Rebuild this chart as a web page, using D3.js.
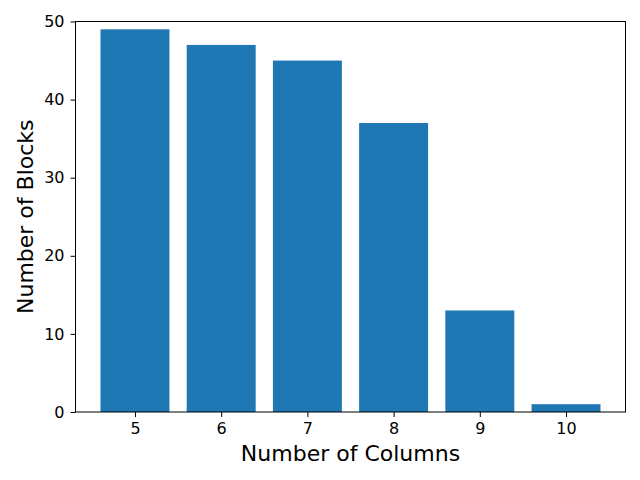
<!DOCTYPE html>
<html>
<head>
<meta charset="utf-8">
<script src="https://cdn.jsdelivr.net/npm/d3@7"></script>
<style>
  body { margin: 0; background: #fff; }
  svg text { font-family: "DejaVu Sans", sans-serif; }
</style>
</head>
<body>
<svg id="chart" width="640" height="480"></svg>
<script>
var columns = [5, 6, 7, 8, 9, 10];
var blocks = [49, 47, 45, 37, 13, 1];
var yTicks = [0, 10, 20, 30, 40, 50];

var margin = {top: 21.5, right: 14.5, bottom: 68, left: 75.5},
    width = 640 - margin.left - margin.right,
    height = 480 - margin.top - margin.bottom;

var svg = d3.select("#chart")
    .append("g")
    .attr("transform", "translate(" + margin.left + "," + margin.top + ")");

var barW = 0.8;
var lo = columns[0] - barW / 2, hi = columns[columns.length - 1] + barW / 2;
var pad = (hi - lo) * 0.05;

var x = d3.scaleLinear()
    .domain([lo - pad, hi + pad])
    .range([0, width]);

var y = d3.scaleLinear()
    .domain([0, 50])
    .range([height, 0]);

svg.selectAll(".bar")
    .data(columns)
    .enter()
    .append("rect")
    .attr("class", "bar")
    .attr("x", function(d) { return x(d - barW / 2); })
    .attr("width", function(d) { return x(d + barW / 2) - x(d - barW / 2); })
    .attr("y", function(d, i) { return y(blocks[i]); })
    .attr("height", function(d, i) { return height - y(blocks[i]); })
    .style("fill", "#1f77b4");

var xAxis = d3.axisBottom(x).tickValues(columns).tickSize(5).tickPadding(6).tickFormat(d3.format("d"));
var yAxis = d3.axisLeft(y).tickValues(yTicks).tickSize(5).tickPadding(6);

var gx = svg.append("g")
    .attr("transform", "translate(0," + height + ")")
    .call(xAxis);
var gy = svg.append("g").call(yAxis);

[gx, gy].forEach(function(g) {
    g.select(".domain").remove();
    g.selectAll("text").style("font-size", "16px").style("fill", "#000");
    g.selectAll("line").style("stroke", "#000");
});

// frame
svg.append("rect")
    .attr("width", width)
    .attr("height", height)
    .style("fill", "none")
    .style("stroke", "#000")
    .style("stroke-width", 1);

svg.append("text")
    .attr("x", width / 2)
    .attr("y", height + 49)
    .style("text-anchor", "middle")
    .style("font-size", "22px")
    .text("Number of Columns");

svg.append("text")
    .attr("transform", "rotate(-90)")
    .attr("x", -height / 2)
    .attr("y", -43)
    .style("text-anchor", "middle")
    .style("font-size", "22px")
    .text("Number of Blocks");
</script>
</body>
</html>
